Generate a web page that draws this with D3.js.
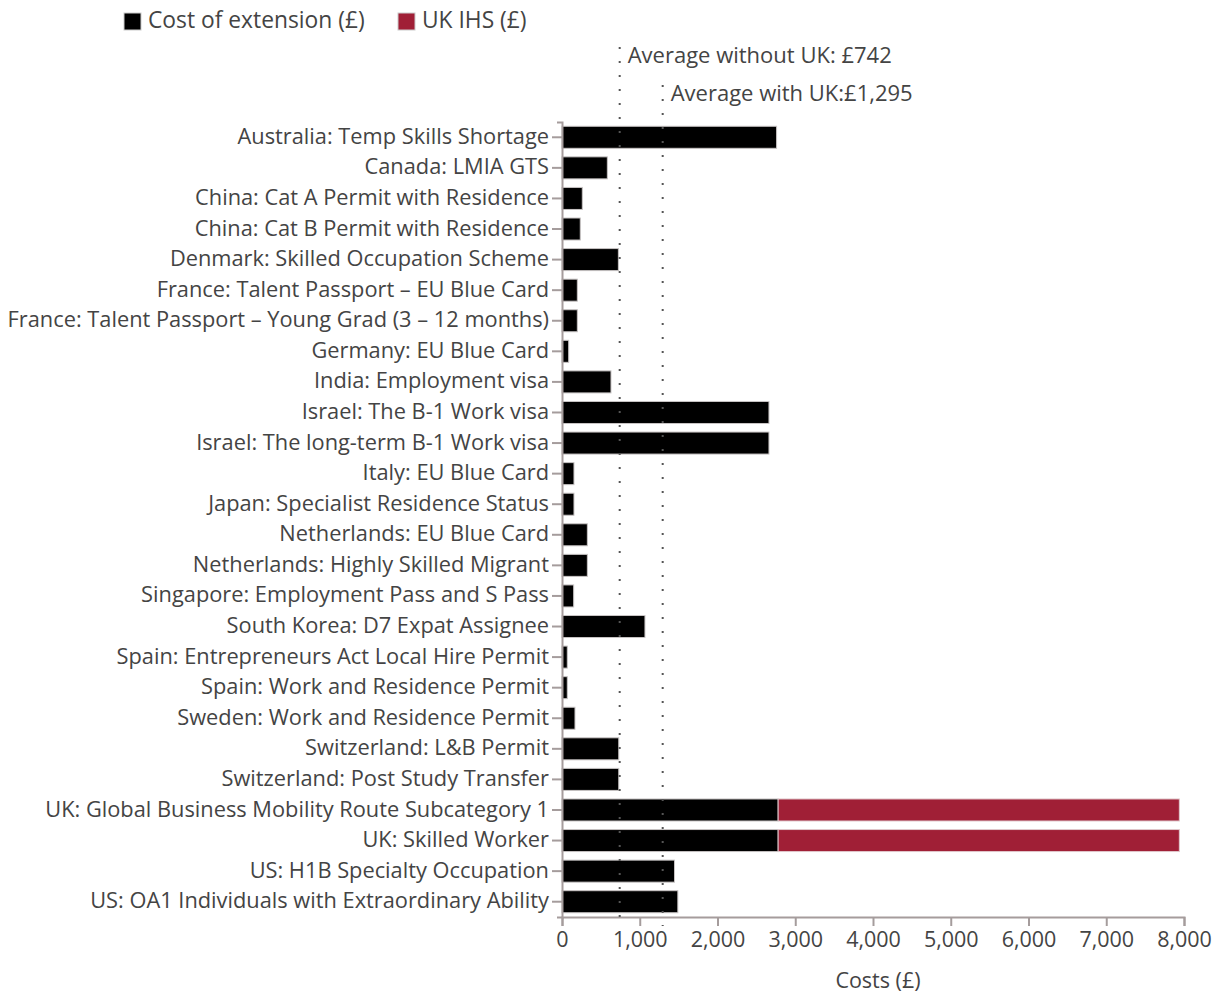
<!DOCTYPE html>
<html>
<head>
<meta charset="utf-8">
<script src="https://cdn.jsdelivr.net/npm/d3@7"></script>
<style>
  body { margin: 0; background: #fff; }
  svg text { font-family: "Open Sans", sans-serif; fill: #444; }
</style>
</head>
<body>
<svg id="chart" width="1221" height="993"></svg>
<script>
var categories = [
    "Australia: Temp Skills Shortage",
    "Canada: LMIA GTS",
    "China: Cat A Permit with Residence",
    "China: Cat B Permit with Residence",
    "Denmark: Skilled Occupation Scheme",
    "France: Talent Passport – EU Blue Card",
    "France: Talent Passport – Young Grad (3 – 12 months)",
    "Germany: EU Blue Card",
    "India: Employment visa",
    "Israel: The B-1 Work visa",
    "Israel: The long-term B-1 Work visa",
    "Italy: EU Blue Card",
    "Japan: Specialist Residence Status",
    "Netherlands: EU Blue Card",
    "Netherlands: Highly Skilled Migrant",
    "Singapore: Employment Pass and S Pass",
    "South Korea: D7 Expat Assignee",
    "Spain: Entrepreneurs Act Local Hire Permit",
    "Spain: Work and Residence Permit",
    "Sweden: Work and Residence Permit",
    "Switzerland: L&B Permit",
    "Switzerland: Post Study Transfer",
    "UK: Global Business Mobility Route Subcategory 1",
    "UK: Skilled Worker",
    "US: H1B Specialty Occupation",
    "US: OA1 Individuals with Extraordinary Ability"
];
var extensionCost = [2760, 583, 261, 235, 725, 197, 197, 86, 630, 2662, 2662, 154, 154, 326, 326, 150, 1067, 68, 68, 167, 730, 730, 2780, 2780, 1447, 1490];
var ukIHS = [0, 0, 0, 0, 0, 0, 0, 0, 0, 0, 0, 0, 0, 0, 0, 0, 0, 0, 0, 0, 0, 0, 5160, 5160, 0, 0];
var xTicks = [0, 1000, 2000, 3000, 4000, 5000, 6000, 7000, 8000];
var averages = [
    {value: 742, label: "Average without UK: £742"},
    {value: 1295, label: "Average with UK:£1,295"}
];
var seriesNames = ["Cost of extension (£)", "UK IHS (£)"];
var seriesColors = ["#000000", "#a01f36"];

var svg = d3.select("#chart");
var plotLeft = 562, plotRight = 1184, plotTop = 122, plotBottom = 917;

var rows = categories.map(function (c, i) {
    return {name: c, ext: extensionCost[i], ihs: ukIHS[i]};
});

var x = d3.scaleLinear().domain([0, 8000]).range([plotLeft, plotRight]);
var y = d3.scaleBand().domain(categories).range([plotTop, plotBottom])
    .paddingInner(0.28).paddingOuter(0.14);

// bars
var bars = svg.append("g");
bars.selectAll(".ext").data(rows).enter().append("rect")
    .attr("class", "ext")
    .attr("x", x(0))
    .attr("y", function (d) { return y(d.name); })
    .attr("width", function (d) { return x(d.ext) - x(0); })
    .attr("height", y.bandwidth())
    .attr("fill", seriesColors[0])
    .attr("stroke", "#c8c4c4")
    .attr("stroke-width", 1);
bars.selectAll(".ihs").data(rows.filter(function (d) { return d.ihs > 0; })).enter().append("rect")
    .attr("class", "ihs")
    .attr("x", function (d) { return x(d.ext); })
    .attr("y", function (d) { return y(d.name); })
    .attr("width", function (d) { return x(d.ext + d.ihs) - x(d.ext); })
    .attr("height", y.bandwidth())
    .attr("fill", seriesColors[1])
    .attr("stroke", "#e0c8cc")
    .attr("stroke-width", 1);

// y axis
var yAxis = svg.append("g")
    .attr("transform", "translate(" + plotLeft + ",0)")
    .call(d3.axisLeft(y).tickSize(10).tickSizeOuter(5).tickPadding(3));
yAxis.selectAll("text").style("font-size", "21.8px").attr("fill", "#444").attr("dy", "0.3em");

// x axis
var xAxis = svg.append("g")
    .attr("transform", "translate(0," + plotBottom + ")")
    .call(d3.axisBottom(x).tickValues(xTicks).tickSize(9).tickSizeOuter(9).tickPadding(6)
        .tickFormat(d3.format(",")));
xAxis.selectAll("text").style("font-size", "21.5px").attr("fill", "#444");

svg.selectAll(".domain, .tick line").attr("stroke", "#a59c9c").attr("stroke-width", 2);

// average lines
var avgTop = [47, 85];
averages.forEach(function (a, i) {
    svg.append("line")
        .attr("x1", x(a.value)).attr("x2", x(a.value))
        .attr("y1", avgTop[i]).attr("y2", plotBottom + 9)
        .attr("stroke", "#555")
        .attr("stroke-width", 2)
        .attr("stroke-dasharray", "2,12");
    svg.append("text")
        .attr("x", x(a.value) + 8)
        .attr("y", avgTop[i] + 16)
        .style("font-size", "22px")
        .text(a.label);
});

// axis title
svg.append("text")
    .attr("x", (plotLeft + plotRight) / 2 + 5)
    .attr("y", 988)
    .attr("text-anchor", "middle")
    .style("font-size", "21.5px")
    .text("Costs (£)");

// legend
var legendX = [124, 398];
seriesNames.forEach(function (s, i) {
    svg.append("rect")
        .attr("x", legendX[i]).attr("y", 13)
        .attr("width", 17).attr("height", 17)
        .attr("fill", seriesColors[i])
        .attr("stroke", "#ccc");
    svg.append("text")
        .attr("x", legendX[i] + 24)
        .attr("y", 28)
        .style("font-size", "22.8px")
        .text(s);
});
</script>
</body>
</html>
